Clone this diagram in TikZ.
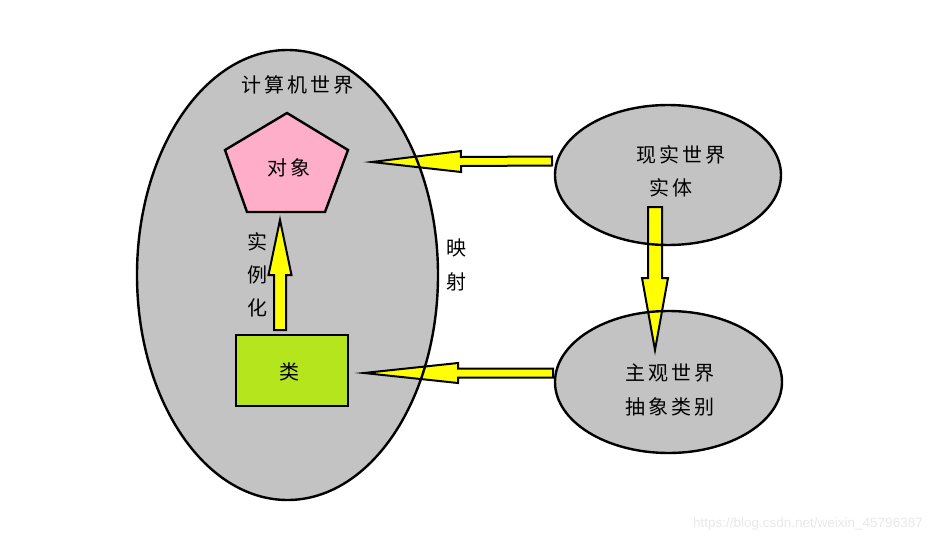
\documentclass[tikz,border=0pt]{standalone}
\usepackage{fontspec}
\newfontfamily\cjk[LetterSpace=15]{Noto Sans CJK SC}
\newfontfamily\wmfont{Liberation Sans}
\usetikzlibrary{calc}
\definecolor{elgray}{HTML}{C3C3C3}
\definecolor{pinkfill}{HTML}{FFAEC9}
\definecolor{limefill}{HTML}{B5E61D}
\definecolor{arrowyellow}{HTML}{FFFF00}
\newcommand\blkarrow[5]{%
  \coordinate (hb) at ($(#2)!#5!(#1)$);
  \filldraw[blockarrow] ($(#1)!#3!90:(#2)$) -- ($(hb)!#3!90:(#2)$) -- ($(hb)!#4!90:(#2)$) -- (#2)
     -- ($(hb)!#4!-90:(#2)$) -- ($(hb)!#3!-90:(#2)$) -- ($(#1)!#3!-90:(#2)$) -- cycle;
}
\begin{document}
\begin{tikzpicture}[x=1pt,y=-1pt,
  lbl/.style={font=\cjk\fontsize{20}{22}\selectfont, inner sep=0pt},
  blockarrow/.style={fill=arrowyellow, draw=black, line width=2pt, line join=miter},
  border/.style={draw=black, line width=2.4pt},
  shapefill/.style={fill=elgray}]
\useasboundingbox (0,0) rectangle (932,543);
% ellipse fills
\fill[shapefill] (287.5,275) ellipse [x radius=150.5, y radius=225];
\fill[shapefill] (668,175) ellipse [x radius=113, y radius=70];
\fill[shapefill] (668.5,382) ellipse [x radius=113.5, y radius=71];
% pentagon
\filldraw[fill=pinkfill, border] (287,113) -- (348,150) -- (325,212) -- (247,212) -- (225,150) -- cycle;
% class rectangle
\node[draw=black, line width=2.4pt, fill=limefill, minimum width=112pt, minimum height=71pt, inner sep=0pt] (cls) at (292,370.5) {};
% arrow end coordinates
\coordinate (upS) at (280,330);
\coordinate (upE) at (280,220);
\coordinate (topS) at (552,161);
\coordinate (topE) at (372,162);
\coordinate (botS) at (553,373);
\coordinate (botE) at (364,373);
\coordinate (dnS) at (655,207);
\coordinate (dnE) at (655,350);
\blkarrow{upS}{upE}{6pt}{11.5pt}{55pt}
\blkarrow{topS}{topE}{4.5pt}{10.5pt}{89pt}
\blkarrow{botS}{botE}{4.5pt}{10pt}{94pt}
\blkarrow{dnS}{dnE}{7pt}{13pt}{72pt}
% ellipse borders
\draw[border] (287.5,275) ellipse [x radius=150.5, y radius=225];
\draw[border] (668,175) ellipse [x radius=113, y radius=70];
\draw[border] (668.5,382) ellipse [x radius=113.5, y radius=71];
% labels
\node[lbl] (tcomp) at (297,85) {计算机世界};
\node[lbl] (tobj) at (289,168) {对象};
\node[lbl] (tcls) at (289,372) {类};
\node[lbl] (ti1) at (257,242) {实};
\node[lbl] (ti2) at (257,275) {例};
\node[lbl] (ti3) at (257,308) {化};
\node[lbl] (tm1) at (456,248) {映};
\node[lbl] (tm2) at (456,282) {射};
\node[lbl] (treal1) at (681,155) {现实世界};
\node[lbl] (treal2) at (671,188) {实体};
\node[lbl] (tsub1) at (670,373) {主观世界};
\node[lbl] (tsub2) at (670,407) {抽象类别};
\node[font=\wmfont\fontsize{13.5}{15}\selectfont, text=black!9, inner sep=0pt, anchor=east] (wm) at (923,524) {https://blog.csdn.net/weixin\_45796387};
\end{tikzpicture}
\end{document}
